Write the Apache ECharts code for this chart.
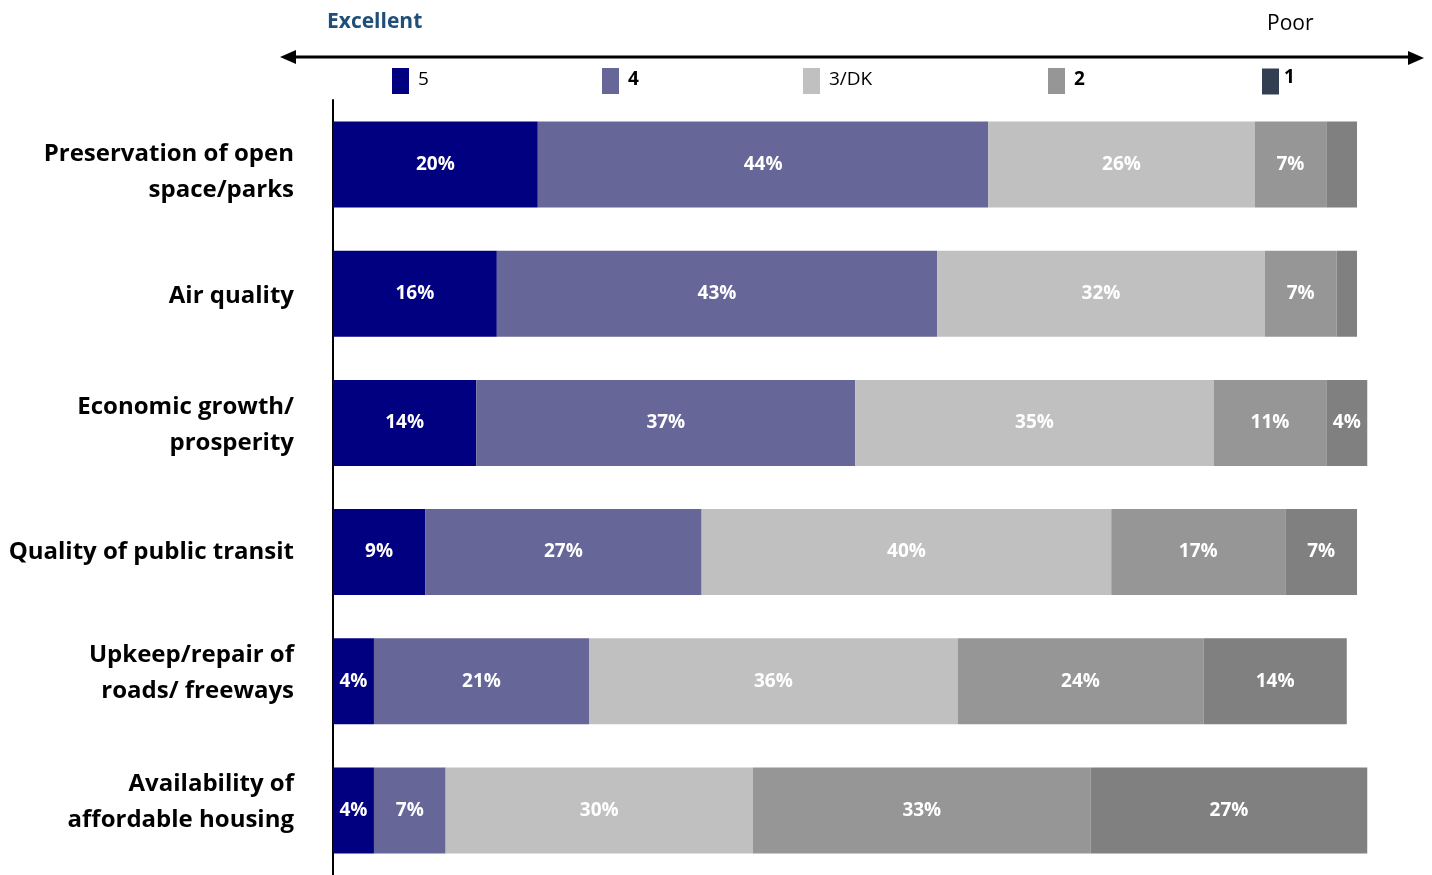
<!DOCTYPE html>
<html>
<head>
<meta charset="utf-8">
<style>
  html, body { margin: 0; padding: 0; background: #fff; }
  #chart { width: 1432px; height: 875px; }
</style>
<script src="https://cdn.jsdelivr.net/npm/echarts@6/dist/echarts.min.js"></script>
</head>
<body>
<div id="chart"></div>
<script>
// Rating categories, top to bottom
const categories = [
  'Preservation of open\nspace/parks',
  'Air quality',
  'Economic growth/\nprosperity',
  'Quality of public transit',
  'Upkeep/repair of\nroads/ freeways',
  'Availability of\naffordable housing'
];

// Share of respondents (%) by rating
const rating5 = [20, 16, 14, 9, 4, 4];
const rating4 = [44, 43, 37, 27, 21, 7];
const rating3 = [26, 32, 35, 40, 36, 30];
const rating2 = [7, 7, 11, 17, 24, 33];
const rating1 = [3, 2, 4, 7, 14, 27];

// Which segments carry a printed value
const show1 = [false, false, true, true, true, true];

const seriesNames = ['5', '4', '3/DK', '2', '1'];
const seriesColors = ['#000080', '#666699', '#C0C0C0', '#969696', '#808080'];
const legendColors = ['#000080', '#666699', '#C0C0C0', '#969696', '#333F50'];
const legendBold = [false, true, false, true, true];
const legendLeft = [392, 602, 803, 1048, 1262];

const FONT = '"Open Sans", "Liberation Sans", sans-serif';

const chart = echarts.init(document.getElementById('chart'));

const labelStyle = {
  show: true,
  position: 'inside',
  color: '#fff',
  fontFamily: FONT,
  fontWeight: 'bold',
  fontSize: 19,
  formatter: p => p.value + '%'
};

function makeSeries(name, values, color, showFlags) {
  return {
    name: name,
    type: 'bar',
    stack: 'total',
    barWidth: 86,
    itemStyle: { color: color },
    label: labelStyle,
    emphasis: { disabled: true },
    data: values.map((v, i) => ({
      value: v,
      label: { show: showFlags ? showFlags[i] : true }
    }))
  };
}

const legends = seriesNames.map((n, i) => ({
  left: legendLeft[i],
  top: 68,
  padding: 0,
  itemWidth: 17,
  itemHeight: 26,
  icon: 'rect',
  selectedMode: false,
  formatter: '{t|{name}}',
  textStyle: {
    fontFamily: FONT,
    fontSize: 19,
    color: '#000',
    fontWeight: legendBold[i] ? 'bold' : 'normal',
    rich: {
      t: {
        fontFamily: FONT,
        fontSize: 19,
        color: '#000',
        fontWeight: legendBold[i] ? 'bold' : 'normal',
        padding: i === 4 ? [0, 0, 8, 0] : [0, 0, 2, 4]
      }
    }
  },
  data: [{ name: n, itemStyle: { color: legendColors[i] } }]
}));

// Per-row vertical nudges for the category names
const labelShift = [8, 2, 2, 0, -8, -8];

chart.setOption({
  animation: false,
  legend: legends,
  grid: { left: 333, top: 100, width: 1044.5, bottom: -3, containLabel: false },
  xAxis: {
    type: 'value',
    min: 0,
    max: 102,
    show: false
  },
  yAxis: {
    type: 'category',
    inverse: true,
    data: categories,
    axisLine: { show: true, lineStyle: { color: '#000', width: 2 } },
    axisTick: { show: false },
    axisLabel: {
      margin: 39,
      color: '#000',
      fontFamily: FONT,
      fontWeight: 'bold',
      fontSize: 24,
      lineHeight: 36,
      align: 'right',
      formatter: (v, i) => v.split('\n').map(t => '{r' + i + '|' + t + '}').join('\n'),
      rich: Object.fromEntries(labelShift.map((s, i) => ['r' + i, {
        fontFamily: FONT, fontWeight: 'bold', fontSize: 24, lineHeight: 36, color: '#000',
        padding: s >= 0 ? [s * 2, 0, 0, 0] : [0, 0, -s * 2, 0]
      }]))
    }
  },
  series: [
    makeSeries(seriesNames[0], rating5, seriesColors[0]),
    makeSeries(seriesNames[1], rating4, seriesColors[1]),
    makeSeries(seriesNames[2], rating3, seriesColors[2]),
    makeSeries(seriesNames[3], rating2, seriesColors[3]),
    makeSeries(seriesNames[4], rating1, seriesColors[4], show1)
  ],
  graphic: [
    // Double-headed scale arrow
    { type: 'line', shape: { x1: 292, y1: 57, x2: 1410, y2: 57 },
      style: { stroke: '#000', lineWidth: 3 } },
    { type: 'polygon', shape: { points: [[280, 57], [296, 50], [296, 64]] },
      style: { fill: '#000' } },
    { type: 'polygon', shape: { points: [[1424, 58], [1408, 51], [1408, 65]] },
      style: { fill: '#000' } },
    { type: 'text', left: 327, top: 12,
      style: { text: 'Excellent', fill: '#1F4E79', font: 'bold 21px ' + FONT } },
    { type: 'text', left: 1267, top: 14,
      style: { text: 'Poor', fill: '#000', font: 'normal 21px ' + FONT } }
  ]
});
</script>
</body>
</html>
